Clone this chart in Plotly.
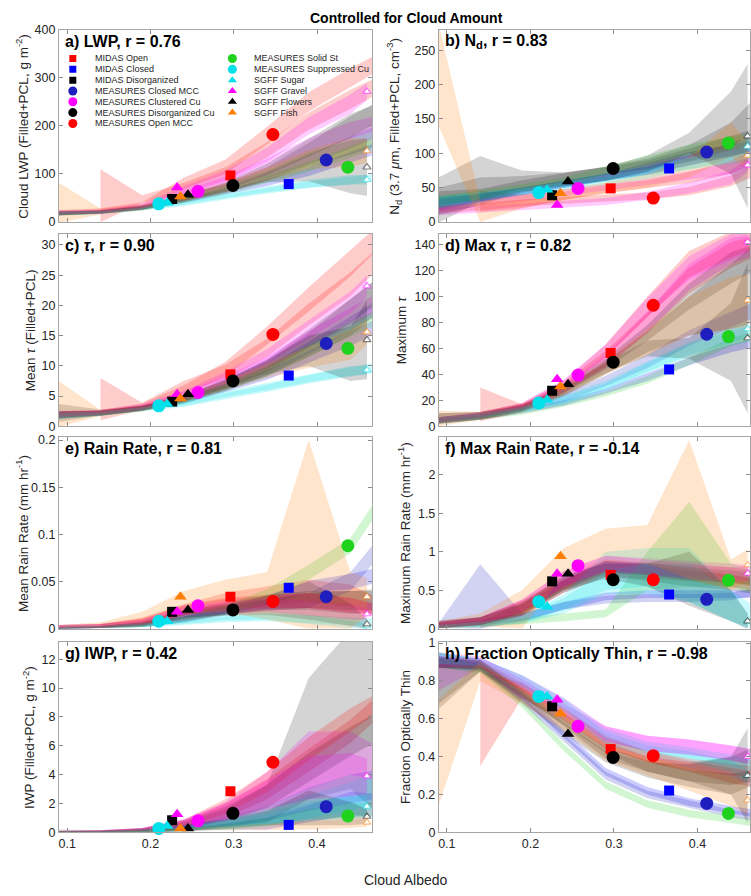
import plotly.graph_objects as go

# ---------------- data ----------------
classes = ["MIDAS Open", "MIDAS Closed", "MIDAS Disorganized", "MEASURES Closed MCC",
           "MEASURES Clustered Cu", "MEASURES Disorganized Cu", "MEASURES Open MCC",
           "MEASURES Solid St", "MEASURES Suppressed Cu", "SGFF Sugar", "SGFF Gravel",
           "SGFF Flowers", "SGFF Fish"]
# class-mean cloud albedo (position of the big markers)
class_albedo = [0.296, 0.366, 0.226, 0.411, 0.257, 0.299, 0.347, 0.437, 0.210, 0.220, 0.232, 0.245, 0.236]
# albedo of the last bin (open markers at the right edge)
end_albedo = [0.467, 0.467, 0.467, 0.468, 0.468, 0.468, 0.468, 0.468, 0.468, 0.460, 0.460, 0.460, 0.460]
# albedo bins of the shaded bands (the last band point sits at end_albedo)
albedo_bins = [0.09, 0.14, 0.19, 0.24, 0.29, 0.34, 0.39, 0.44]

albedo_ticks = [0.1, 0.2, 0.3, 0.4]
albedo_ticktext = ["0.1", "0.2", "0.3", "0.4"]

# a) LWP
lwp_mean = [97, 79, 48, 129, 64, 76, 182, 114, 38, 40, 72, 57, 53]
lwp_band = [
    [None, 55, 48, 70, 100, 150, 210, 255, 279],
    [18, 21, 29, 44, 62, 82, 105, 135, 151],
    [18, 21, 30, 48, 72, 100, 140, 180, 200],
    [18, 21, 29, 45, 66, 95, 130, 165, 186],
    [20, 22, 32, 58, 85, 120, 160, 190, 205],
    [18, 21, 30, 50, 75, 110, 155, 200, 223],
    [20, 24, 35, 80, 115, 180, 250, 300, 327],
    [18, 21, 29, 45, 64, 90, 115, 145, 163],
    [18, 20, 27, 37, 52, 65, 78, 86, 92],
    [18, 20, 28, 40, 55, 68, 80, 88, 88],
    [20, 22, 32, 65, 95, 140, 200, 245, 271],
    [18, 21, 30, 50, 70, 95, 115, 115, 114],
    [40, 22, 30, 50, 72, 100, 130, 145, 148],
]
lwp_err = [
    [None, 55, 8, 12, 14, 16, 18, 20, 18],
    [4, 3, 3, 4, 5, 7, 9, 11, 12],
    [5, 4, 5, 6, 9, 14, 25, 40, 45],
    [4, 3, 4, 5, 6, 8, 10, 12, 12],
    [4, 4, 5, 8, 10, 12, 15, 18, 15],
    [4, 3, 4, 6, 8, 12, 18, 25, 20],
    [5, 5, 6, 12, 15, 18, 20, 20, 18],
    [4, 3, 4, 5, 6, 8, 10, 12, 12],
    [4, 3, 3, 4, 5, 6, 7, 8, 8],
    [4, 3, 3, 4, 5, 6, 8, 10, 10],
    [4, 4, 5, 10, 12, 15, 18, 20, 18],
    [4, 3, 4, 6, 8, 12, 30, 55, 60],
    [42, 6, 6, 8, 10, 14, 20, 30, 25],
]
lwp_ticks = [0, 100, 200, 300, 400]
lwp_range = [0, 400]

# b) Nd
nd_mean = [49, 78, 39, 102, 49, 78, 35, 115, 43, 47, 25, 59, 42]
nd_band = [
    [None, 30, 30, 38, 48, 55, 65, 80, 95],
    [25, 35, 45, 55, 65, 75, 90, 105, 115],
    [32, 63, 60, 62, 70, 80, 95, 110, 120],
    [28, 35, 45, 55, 65, 80, 95, 105, 110],
    [20, 28, 35, 42, 50, 58, 68, 78, 88],
    [35, 40, 55, 65, 75, 85, 100, 125, 160],
    [18, 22, 28, 32, 35, 38, 45, 60, 75],
    [30, 40, 50, 60, 75, 90, 105, 115, 120],
    [30, 38, 45, 55, 65, 75, 85, 95, 100],
    [28, 36, 44, 52, 60, 70, 85, 100, 110],
    [15, 18, 22, 26, 30, 38, 50, 65, 83],
    [30, 45, 55, 62, 70, 85, 115, 130, 125],
    [215, 15, 30, 40, 50, 60, 80, 120, 97],
]
nd_err = [
    [None, 15, 10, 6, 6, 6, 8, 10, 10],
    [8, 6, 5, 5, 5, 6, 8, 10, 12],
    [33, 33, 15, 10, 10, 10, 12, 15, 15],
    [8, 6, 5, 5, 5, 6, 7, 8, 8],
    [6, 5, 5, 5, 5, 5, 6, 8, 8],
    [10, 8, 6, 6, 6, 8, 12, 20, 20],
    [5, 5, 5, 5, 5, 5, 6, 8, 8],
    [8, 6, 5, 5, 6, 7, 8, 10, 10],
    [8, 6, 5, 5, 6, 7, 8, 10, 10],
    [8, 6, 5, 5, 6, 7, 8, 10, 10],
    [5, 5, 5, 5, 5, 6, 8, 10, 10],
    [20, 20, 12, 10, 10, 12, 15, 60, 105],
    [75, 15, 10, 8, 8, 10, 15, 25, 20],
]
nd_ticks = [0, 50, 100, 150, 200, 250]
nd_range = [0, 280]

# c) mean tau
tau_mean = [8.6, 8.4, 4.1, 13.7, 5.6, 7.5, 15.2, 12.9, 3.4, 3.7, 5.3, 5.3, 4.6]
tau_band = [
    [None, 4.5, 3.3, 6.5, 9, 13, 18.5, 23.5, 27],
    [1.8, 2.2, 3, 4.3, 6.3, 8.5, 11.5, 14.5, 16.3],
    [2.2, 2.3, 3, 4.5, 6.8, 9.5, 13.5, 18, 21],
    [1.8, 2.2, 3, 4.3, 6.5, 9.2, 13, 17, 19.3],
    [2, 2.2, 3.1, 5, 7.5, 10.5, 14.5, 18, 20.2],
    [1.9, 2.2, 3, 4.6, 7, 10, 14.5, 19, 21.9],
    [2, 2.3, 3.3, 6, 9.5, 15, 21, 27, 30.6],
    [1.8, 2.1, 2.9, 4.3, 6.4, 9, 12.5, 16, 17.8],
    [1.7, 2, 2.8, 3.6, 5, 6.3, 7.8, 9, 9.7],
    [1.8, 2.1, 2.9, 3.8, 5.3, 6.6, 8, 9.2, 9.3],
    [2, 2.3, 3.2, 5.2, 8, 11.5, 16, 20.5, 23.2],
    [2, 2.2, 3, 4.6, 7, 9.8, 12.5, 12, 14.3],
    [3.7, 2.2, 3, 4.6, 6.8, 9.2, 11.5, 13.5, 15.6],
]
tau_err = [
    [None, 3.5, 0.6, 1.0, 1.2, 1.5, 1.8, 2, 1.8],
    [0.6, 0.4, 0.4, 0.5, 0.6, 0.8, 1, 1.2, 1.2],
    [1.5, 0.5, 0.4, 0.5, 0.8, 1.2, 2, 3, 3],
    [0.6, 0.4, 0.4, 0.5, 0.6, 0.8, 1, 1.2, 1.2],
    [0.5, 0.4, 0.4, 0.6, 0.8, 1, 1.3, 1.5, 1.5],
    [0.5, 0.4, 0.4, 0.5, 0.7, 1, 1.5, 2, 2],
    [0.5, 0.4, 0.5, 0.8, 1.2, 1.5, 2, 2.2, 2],
    [0.5, 0.4, 0.4, 0.5, 0.6, 0.8, 1, 1.2, 1.2],
    [0.5, 0.3, 0.3, 0.4, 0.5, 0.6, 0.7, 0.8, 0.8],
    [0.5, 0.3, 0.3, 0.4, 0.5, 0.6, 0.7, 0.8, 0.8],
    [0.5, 0.4, 0.5, 0.7, 1, 1.3, 1.6, 1.8, 1.8],
    [0.6, 0.4, 0.4, 0.5, 0.8, 1.2, 2.5, 4.5, 6.5],
    [3.8, 0.5, 0.5, 0.6, 0.8, 1.2, 1.8, 2.5, 2],
]
tau_ticks = [0, 5, 10, 15, 20, 25, 30]
tau_range = [0, 31.8]

# d) max tau
maxtau_mean = [56.5, 43.8, 27.4, 70.9, 39.5, 49.4, 93.2, 69.1, 18, 20.5, 36.2, 32.4, 30.6]
maxtau_band = [
    [None, 17, 14, 30, 52, 80, 112, 132, 138],
    [4, 7, 12, 18, 27, 38, 50, 60, 64],
    [6, 8, 14, 26, 45, 65, 85, 100, 110],
    [5, 8, 14, 22, 35, 50, 68, 82, 90],
    [5, 8, 15, 29, 50, 80, 115, 135, 140],
    [5, 8, 15, 28, 48, 72, 100, 122, 130],
    [5, 9, 16, 32, 58, 92, 125, 140, 145],
    [4, 7, 11, 17, 25, 36, 50, 65, 70],
    [5, 8, 13, 20, 30, 45, 58, 68, 72],
    [5, 8, 13, 21, 32, 46, 60, 70, 75],
    [5, 9, 16, 33, 58, 92, 122, 138, 142],
    [6, 8, 14, 27, 45, 60, 60, 65, 68],
    [6, 8, 14, 27, 45, 65, 85, 95, 97],
]
maxtau_err = [
    [None, 13, 3, 4, 6, 8, 10, 10, 8],
    [2, 2, 2, 2, 2, 3, 3, 3, 3],
    [4, 3, 3, 3, 5, 8, 15, 25, 30],
    [2, 2, 2, 3, 4, 5, 6, 6, 6],
    [2, 2, 2, 3, 5, 8, 10, 10, 8],
    [2, 2, 2, 3, 4, 6, 10, 12, 10],
    [2, 2, 2, 3, 5, 8, 10, 10, 8],
    [2, 2, 2, 2, 2, 3, 3, 3, 3],
    [2, 2, 2, 3, 3, 4, 5, 6, 6],
    [2, 2, 2, 3, 3, 4, 5, 6, 6],
    [2, 2, 2, 3, 5, 7, 9, 10, 8],
    [4, 3, 2, 3, 4, 6, 8, 30, 58],
    [6, 3, 3, 3, 5, 10, 15, 20, 20],
]
maxtau_ticks = [0, 20, 40, 60, 80, 100, 120, 140]
maxtau_range = [0, 148]

# e) mean rain rate
rain_mean = [0.034, 0.0435, 0.018, 0.034, 0.0244, 0.020, 0.029, 0.088, 0.008, 0.008, 0.018, 0.020, 0.034]
rain_band = [
    [None, 0.003, 0.008, 0.02, 0.03, 0.035, 0.04, 0.035, 0.025],
    [0.001, 0.002, 0.004, 0.01, 0.02, 0.03, 0.045, 0.05, 0.0557],
    [0.002, 0.003, 0.006, 0.015, 0.022, 0.028, 0.03, 0.028, 0.03],
    [0.001, 0.002, 0.004, 0.01, 0.018, 0.026, 0.03, 0.05, 0.08],
    [0.002, 0.003, 0.007, 0.02, 0.025, 0.028, 0.03, 0.025, 0.02],
    [0.001, 0.002, 0.005, 0.013, 0.02, 0.025, 0.03, 0.03, 0.03],
    [0.002, 0.003, 0.008, 0.02, 0.027, 0.029, 0.03, 0.025, 0.021],
    [0.001, 0.002, 0.004, 0.01, 0.02, 0.035, 0.06, 0.088, 0.125],
    [0.001, 0.002, 0.004, 0.006, 0.01, 0.012, 0.01, 0.008, 0.007],
    [0.001, 0.002, 0.004, 0.007, 0.012, 0.014, 0.01, 0.005, 0.003],
    [0.002, 0.003, 0.007, 0.018, 0.022, 0.025, 0.022, 0.018, 0.0157],
    [0.001, 0.002, 0.005, 0.016, 0.02, 0.025, 0.03, 0.015, 0.005],
    [0.002, 0.004, 0.01, 0.028, 0.035, 0.035, 0.1, 0.03, 0.034],
]
rain_err = [
    [None, 0.002, 0.004, 0.006, 0.008, 0.01, 0.012, 0.012, 0.01],
    [0.001, 0.001, 0.002, 0.003, 0.004, 0.005, 0.006, 0.008, 0.008],
    [0.002, 0.002, 0.003, 0.005, 0.006, 0.008, 0.01, 0.012, 0.012],
    [0.001, 0.001, 0.002, 0.003, 0.004, 0.005, 0.008, 0.01, 0.01],
    [0.002, 0.002, 0.003, 0.005, 0.006, 0.007, 0.008, 0.008, 0.006],
    [0.001, 0.001, 0.002, 0.004, 0.005, 0.006, 0.008, 0.01, 0.01],
    [0.002, 0.002, 0.003, 0.005, 0.006, 0.007, 0.008, 0.008, 0.006],
    [0.001, 0.001, 0.002, 0.003, 0.005, 0.007, 0.008, 0.008, 0.008],
    [0.001, 0.001, 0.002, 0.002, 0.003, 0.004, 0.004, 0.004, 0.004],
    [0.001, 0.001, 0.002, 0.002, 0.003, 0.004, 0.005, 0.004, 0.003],
    [0.002, 0.002, 0.003, 0.005, 0.006, 0.007, 0.008, 0.008, 0.006],
    [0.001, 0.001, 0.002, 0.004, 0.006, 0.01, 0.02, 0.012, 0.005],
    [0.002, 0.003, 0.008, 0.012, 0.017, 0.025, 0.1, 0.03, 0.02],
]
rain_ticks = [0, 0.05, 0.1, 0.15, 0.2]
rain_range = [0, 0.203]

# f) max rain rate
maxrain_mean = [0.70, 0.446, 0.617, 0.383, 0.82, 0.638, 0.638, 0.63, 0.353, 0.286, 0.714, 0.714, 0.944]
maxrain_band = [
    [None, 0.05, 0.25, 0.55, 0.78, 0.75, 0.72, 0.7, 0.65],
    [0.04, 0.08, 0.15, 0.3, 0.42, 0.45, 0.45, 0.45, 0.45],
    [0.06, 0.1, 0.25, 0.55, 0.78, 0.72, 0.65, 0.6, 0.55],
    [0.04, 0.42, 0.15, 0.3, 0.38, 0.4, 0.4, 0.42, 0.48],
    [0.06, 0.1, 0.3, 0.65, 0.85, 0.82, 0.78, 0.75, 0.72],
    [0.05, 0.1, 0.28, 0.58, 0.8, 0.78, 0.72, 0.68, 0.65],
    [0.05, 0.1, 0.28, 0.6, 0.82, 0.78, 0.7, 0.62, 0.58],
    [0.03, 0.05, 0.1, 0.15, 0.2, 0.75, 1.1, 0.7, 0.6],
    [0.03, 0.06, 0.12, 0.35, 0.75, 0.8, 0.7, 0.3, 0.15],
    [0.03, 0.06, 0.12, 0.3, 0.6, 0.65, 0.6, 0.3, 0.1],
    [0.05, 0.1, 0.3, 0.65, 0.85, 0.8, 0.75, 0.7, 0.72],
    [0.05, 0.1, 0.25, 0.6, 0.75, 0.7, 0.65, 0.3, 0.1],
    [0.05, 0.12, 0.25, 0.88, 1.08, 1.1, 1.55, 0.7, 0.83],
]
maxrain_err = [
    [None, 0.04, 0.08, 0.08, 0.1, 0.1, 0.1, 0.1, 0.1],
    [0.03, 0.04, 0.05, 0.05, 0.05, 0.05, 0.05, 0.05, 0.05],
    [0.05, 0.05, 0.08, 0.08, 0.1, 0.1, 0.1, 0.1, 0.1],
    [0.03, 0.42, 0.05, 0.05, 0.05, 0.05, 0.05, 0.05, 0.05],
    [0.04, 0.05, 0.08, 0.1, 0.1, 0.1, 0.1, 0.1, 0.1],
    [0.04, 0.05, 0.08, 0.08, 0.08, 0.08, 0.08, 0.08, 0.08],
    [0.04, 0.05, 0.08, 0.08, 0.08, 0.08, 0.08, 0.08, 0.08],
    [0.02, 0.03, 0.04, 0.05, 0.05, 0.25, 0.55, 0.15, 0.15],
    [0.02, 0.03, 0.05, 0.1, 0.25, 0.25, 0.35, 0.2, 0.15],
    [0.02, 0.03, 0.05, 0.1, 0.15, 0.2, 0.25, 0.2, 0.1],
    [0.04, 0.05, 0.08, 0.1, 0.1, 0.1, 0.1, 0.1, 0.1],
    [0.04, 0.05, 0.08, 0.1, 0.1, 0.15, 0.35, 0.2, 0.1],
    [0.05, 0.08, 0.25, 0.17, 0.22, 0.25, 0.9, 0.2, 0.2],
]
maxrain_ticks = [0, 0.5, 1, 1.5, 2]
maxrain_range = [0, 2.49]

# g) IWP
iwp_mean = [2.85, 0.52, 0.84, 1.78, 0.8, 1.32, 4.86, 1.14, 0.27, 0.45, 1.25, 0.27, 0.27]
iwp_band = [
    [None, 0.05, 0.15, 0.5, 1.5, 3, 5, 7, 8.4],
    [0.05, 0.05, 0.1, 0.2, 0.4, 0.6, 1.3, 2, 1.9],
    [0.1, 0.1, 0.15, 0.4, 1, 2, 6.5, 8.5, 7.8],
    [0.05, 0.05, 0.1, 0.3, 0.7, 1.3, 2.3, 3, 3.3],
    [0.05, 0.1, 0.2, 0.6, 1.5, 3, 5, 5.5, 4.9],
    [0.05, 0.1, 0.2, 0.5, 1.3, 2.5, 4.5, 6.3, 7.2],
    [0.05, 0.1, 0.2, 0.6, 1.8, 3.5, 5.8, 7.8, 8.8],
    [0.05, 0.05, 0.1, 0.2, 0.4, 0.7, 1.2, 1.5, 1.6],
    [0.05, 0.05, 0.1, 0.3, 0.6, 1, 1.8, 2.5, 3.0],
    [0.05, 0.05, 0.1, 0.3, 0.5, 0.9, 1.5, 1.8, 1.8],
    [0.05, 0.1, 0.2, 0.6, 1.4, 2.6, 3.8, 4, 3.9],
    [0.05, 0.05, 0.1, 0.3, 0.6, 1, 1.7, 1.3, 1.1],
    [0.05, 0.05, 0.1, 0.2, 0.3, 0.4, 0.5, 0.6, 0.7],
]
iwp_err = [
    [None, 0.05, 0.1, 0.3, 0.5, 0.7, 0.8, 0.8, 0.8],
    [0.05, 0.05, 0.1, 0.1, 0.2, 0.4, 0.6, 0.8, 0.8],
    [0.1, 0.05, 0.1, 0.3, 0.6, 1.3, 4.2, 5.5, 6.2],
    [0.05, 0.05, 0.1, 0.2, 0.3, 0.5, 0.8, 1, 1],
    [0.05, 0.05, 0.1, 0.3, 0.6, 1.2, 2, 1.5, 1.2],
    [0.05, 0.05, 0.1, 0.3, 0.5, 0.8, 1, 1, 1],
    [0.05, 0.05, 0.1, 0.3, 0.5, 0.7, 0.8, 0.8, 0.7],
    [0.05, 0.05, 0.1, 0.1, 0.2, 0.3, 0.4, 0.5, 0.5],
    [0.05, 0.05, 0.1, 0.2, 0.3, 0.5, 0.8, 1, 1],
    [0.05, 0.05, 0.1, 0.2, 0.3, 0.4, 0.6, 0.7, 0.7],
    [0.05, 0.05, 0.1, 0.3, 0.6, 1, 1.5, 1.5, 1.2],
    [0.05, 0.05, 0.1, 0.2, 0.3, 0.5, 1.2, 0.8, 0.5],
    [0.05, 0.05, 0.1, 0.1, 0.15, 0.2, 0.3, 0.3, 0.3],
]
iwp_ticks = [0, 2, 4, 6, 8, 10, 12]
iwp_range = [0, 13.2]

# h) fraction optically thin
thin_mean = [0.44, 0.221, 0.666, 0.153, 0.56, 0.396, 0.405, 0.1, 0.718, 0.718, 0.70, 0.52, 0.628]
thin_band = [
    [None, 0.6, 0.75, 0.62, 0.47, 0.4, 0.35, 0.3, 0.28],
    [0.9, 0.88, 0.72, 0.52, 0.32, 0.22, 0.16, 0.12, 0.1],
    [0.8, 0.88, 0.74, 0.6, 0.45, 0.36, 0.32, 0.3, 0.35],
    [0.9, 0.87, 0.7, 0.5, 0.3, 0.2, 0.15, 0.1, 0.08],
    [0.85, 0.9, 0.78, 0.65, 0.52, 0.47, 0.45, 0.42, 0.4],
    [0.9, 0.88, 0.74, 0.58, 0.42, 0.35, 0.3, 0.28, 0.3],
    [0.9, 0.89, 0.77, 0.63, 0.48, 0.4, 0.36, 0.33, 0.32],
    [0.9, 0.86, 0.68, 0.45, 0.25, 0.15, 0.1, 0.07, 0.05],
    [0.92, 0.9, 0.8, 0.68, 0.52, 0.45, 0.42, 0.38, 0.35],
    [0.92, 0.9, 0.8, 0.67, 0.5, 0.43, 0.4, 0.35, 0.3],
    [0.9, 0.9, 0.8, 0.68, 0.52, 0.47, 0.45, 0.42, 0.4],
    [0.8, 0.88, 0.72, 0.55, 0.4, 0.33, 0.3, 0.3, 0.3],
    [0.42, 0.85, 0.72, 0.58, 0.42, 0.35, 0.28, 0.22, 0.17],
]
thin_err = [
    [None, 0.25, 0.04, 0.03, 0.03, 0.03, 0.03, 0.04, 0.04],
    [0.03, 0.02, 0.02, 0.02, 0.02, 0.02, 0.02, 0.02, 0.02],
    [0.15, 0.03, 0.03, 0.03, 0.03, 0.04, 0.05, 0.1, 0.1],
    [0.03, 0.02, 0.02, 0.02, 0.02, 0.02, 0.02, 0.02, 0.02],
    [0.1, 0.03, 0.03, 0.03, 0.04, 0.04, 0.04, 0.04, 0.04],
    [0.03, 0.02, 0.02, 0.02, 0.03, 0.03, 0.03, 0.03, 0.03],
    [0.03, 0.02, 0.02, 0.03, 0.03, 0.03, 0.03, 0.03, 0.03],
    [0.03, 0.02, 0.02, 0.02, 0.02, 0.02, 0.02, 0.02, 0.02],
    [0.03, 0.02, 0.03, 0.03, 0.03, 0.03, 0.03, 0.03, 0.03],
    [0.03, 0.02, 0.03, 0.03, 0.03, 0.03, 0.03, 0.03, 0.03],
    [0.03, 0.02, 0.03, 0.03, 0.04, 0.04, 0.04, 0.04, 0.04],
    [0.12, 0.03, 0.03, 0.03, 0.03, 0.04, 0.06, 0.1, 0.25],
    [0.28, 0.05, 0.04, 0.04, 0.04, 0.05, 0.06, 0.08, 0.08],
]
thin_ticks = [0, 0.2, 0.4, 0.6, 0.8, 1]
thin_range = [0, 1.006]

panel_titles = ["a) LWP, r = 0.76", "b) N<sub>d</sub>, r = 0.83", "c) <i>τ</i>, r = 0.90",
                "d) Max <i>τ</i>, r = 0.82", "e) Rain Rate, r = 0.81", "f) Max Rain Rate, r = -0.14",
                "g) IWP, r = 0.42", "h) Fraction Optically Thin, r = -0.98"]
y_titles = ["Cloud LWP (Filled+PCL, g m<sup>-2</sup>)",
            "N<sub>d</sub> (3.7 <i>μ</i>m, Filled+PCL, cm<sup>-3</sup>)",
            "Mean <i>τ</i> (Filled+PCL)", "Maximum <i>τ</i>",
            "Mean Rain Rate (mm hr<sup>-1</sup>)", "Maximum Rain Rate (mm hr<sup>-1</sup>)",
            "IWP (Filled+PCL, g m<sup>-2</sup>)", "Fraction Optically Thin"]
main_title = "Controlled for Cloud Amount"
x_title = "Cloud Albedo"

# ---------------- style ----------------
W, H = 751, 896
FONT = "Liberation Sans, Arial, Helvetica, sans-serif"
rgb = [(255, 0, 0), (0, 0, 255), (0, 0, 0), (30, 30, 190), (255, 0, 255), (0, 0, 0), (255, 0, 0),
       (30, 210, 30), (0, 225, 235), (0, 225, 235), (255, 0, 255), (0, 0, 0), (255, 125, 0)]
symbols = ["square"] * 3 + ["circle"] * 6 + ["triangle-up"] * 4
big_size = {"square": 10, "circle": 13, "triangle-up": 11}
end_size = {"square": 6, "circle": 7, "triangle-up": 7}
leg_size = {"square": 7, "circle": 9, "triangle-up": 8}


def col(c, a=1.0):
    return "rgba(%d,%d,%d,%.3f)" % (c[0], c[1], c[2], a)


col_px = [(58, 372), (439, 751)]
row_px = [(23, 218.5), (230.7, 426), (437, 631.7), (645, 838.5)]
x_ranges = [[0.09, 0.466], [0.0904, 0.4628]]
ytitle_px = [21, 394, 29, 401, 21, 404, 28, 405]

panels = [
    (lwp_mean, lwp_band, lwp_err, lwp_ticks, lwp_range),
    (nd_mean, nd_band, nd_err, nd_ticks, nd_range),
    (tau_mean, tau_band, tau_err, tau_ticks, tau_range),
    (maxtau_mean, maxtau_band, maxtau_err, maxtau_ticks, maxtau_range),
    (rain_mean, rain_band, rain_err, rain_ticks, rain_range),
    (maxrain_mean, maxrain_band, maxrain_err, maxrain_ticks, maxrain_range),
    (iwp_mean, iwp_band, iwp_err, iwp_ticks, iwp_range),
    (thin_mean, thin_band, thin_err, thin_ticks, thin_range),
]

fig = go.Figure()
layout = {}
annotations = []

for i, (means, bands, errs, ticks, yr) in enumerate(panels):
    r, c = divmod(i, 2)
    sfx = "" if i == 0 else str(i + 1)
    xa, ya = "x" + sfx, "y" + sfx
    x0, x1 = col_px[c]
    t0, t1 = row_px[r]
    axis_common = dict(showline=True, linecolor="#a6a6a6", linewidth=1, mirror="ticks",
                       ticks="inside", ticklen=4, tickcolor="#8c8c8c", showgrid=False,
                       zeroline=False, tickfont=dict(family=FONT, size=12.5, color="#262626"))
    layout["xaxis" + sfx] = dict(domain=[x0 / W, x1 / W], range=x_ranges[c], anchor=ya,
                                 tickvals=albedo_ticks, ticktext=albedo_ticktext,
                                 showticklabels=(r == 3), **axis_common)
    layout["yaxis" + sfx] = dict(domain=[1 - t1 / H, 1 - t0 / H], range=yr, anchor=xa,
                                 tickvals=ticks, ticktext=[("%g" % t) for t in ticks],
                                 **axis_common)

    # shaded bands
    for k in range(len(classes)):
        xs = albedo_bins + [end_albedo[k]]
        pts = [(x, m, e) for x, m, e in zip(xs, bands[k], errs[k]) if m is not None]
        px = [p[0] for p in pts]
        up = [p[1] + p[2] for p in pts]
        lo = [p[1] - p[2] for p in pts]
        fig.add_trace(go.Scatter(x=px + px[::-1], y=up + lo[::-1], fill="toself",
                                 fillcolor=col(rgb[k], 0.2 if rgb[k] != (0, 0, 0) else 0.17),
                                 mode="lines", line=dict(width=0, color="rgba(0,0,0,0)"),
                                 hoverinfo="skip", showlegend=False, xaxis=xa, yaxis=ya))
    # open markers at the last albedo bin
    fig.add_trace(go.Scatter(
        x=end_albedo, y=[b[-1] for b in bands], mode="markers", cliponaxis=False,
        marker=dict(symbol=symbols, size=[end_size[s] for s in symbols], color="white",
                    opacity=1, line=dict(color=[col(cc, 0.5) for cc in rgb], width=1.2)),
        showlegend=False, hoverinfo="skip", xaxis=xa, yaxis=ya))
    # class mean markers
    fig.add_trace(go.Scatter(
        x=class_albedo, y=means, mode="markers", cliponaxis=False,
        marker=dict(symbol=symbols, size=[big_size[s] for s in symbols], opacity=1,
                    color=[col(cc) for cc in rgb], line=dict(width=0)),
        text=classes, showlegend=False, xaxis=xa, yaxis=ya))

    annotations.append(dict(text="<b>" + panel_titles[i] + "</b>", xref="paper", yref="paper",
                            x=(x0 + 4) / W, y=1 - (t0 + 12) / H, xanchor="left", yanchor="middle",
                            showarrow=False, font=dict(family=FONT, size=16, color="black")))
    annotations.append(dict(text=y_titles[i], xref="paper", yref="paper",
                            x=ytitle_px[i] / W, y=1 - (t0 + t1) / 2 / H, textangle=-90,
                            xanchor="center", yanchor="middle", showarrow=False,
                            font=dict(family=FONT, size=13.5, color="#262626")))

# legend (drawn inside panel a on an overlaid unit axis)
layout["xaxis9"] = dict(overlaying="x", range=[0, 1], visible=False, anchor="y9",
                        domain=[col_px[0][0] / W, col_px[0][1] / W])
layout["yaxis9"] = dict(overlaying="y", range=[0, 1], visible=False, anchor="x9",
                        domain=[1 - row_px[0][1] / H, 1 - row_px[0][0] / H])
pw = col_px[0][1] - col_px[0][0]
ph = row_px[0][1] - row_px[0][0]
leg_x, leg_y = [], []
for k in range(len(classes)):
    cidx, ridx = (0, k) if k < 7 else (1, k - 7)
    mx = (72 + cidx * 160 - col_px[0][0]) / pw
    my = 1 - (52.3 + ridx * 11.0 - row_px[0][0]) / ph
    leg_x.append(mx)
    leg_y.append(my)
    annotations.append(dict(text=classes[k], xref="x9", yref="y9", x=mx + 20 / pw, y=my,
                            xanchor="left", yanchor="middle", showarrow=False,
                            font=dict(family=FONT, size=9, color="#262626")))
fig.add_trace(go.Scatter(x=leg_x, y=leg_y, mode="markers", xaxis="x9", yaxis="y9",
                         marker=dict(symbol=symbols, size=[leg_size[s] for s in symbols],
                                     opacity=1, color=[col(cc) for cc in rgb], line=dict(width=0)),
                         showlegend=False, hoverinfo="skip"))

annotations.append(dict(text="<b>" + main_title + "</b>", xref="paper", yref="paper",
                        x=407 / W, y=1 - 11 / H, xanchor="center", yanchor="middle",
                        showarrow=False, font=dict(family=FONT, size=14, color="black")))
annotations.append(dict(text=x_title, xref="paper", yref="paper", x=406 / W, y=1 - 887 / H,
                        xanchor="center", yanchor="middle", showarrow=False,
                        font=dict(family=FONT, size=14, color="#262626")))

fig.update_layout(width=W, height=H, margin=dict(l=0, r=0, t=0, b=0),
                  paper_bgcolor="white", plot_bgcolor="white", showlegend=False,
                  annotations=annotations, **layout)
fig.write_html("out.html")
